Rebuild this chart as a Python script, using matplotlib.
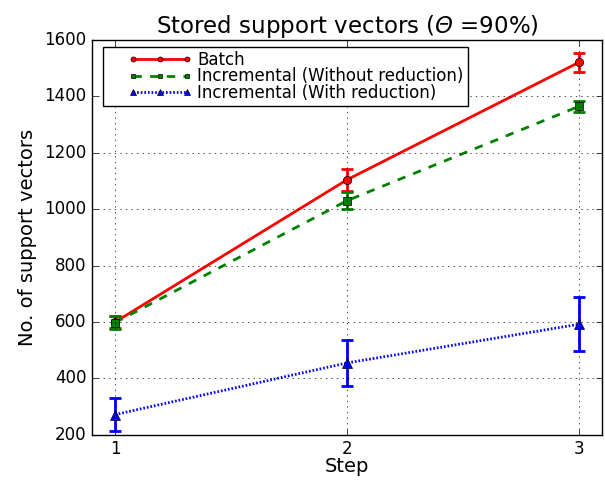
import numpy as np
import matplotlib
matplotlib.use('Agg')
import matplotlib.pyplot as plt
from matplotlib.legend_handler import HandlerLine2D

plt.style.use('classic')
# italic Theta in the title
plt.rcParams['mathtext.fontset'] = 'custom'
plt.rcParams['mathtext.rm'] = 'DejaVu Sans:italic'
plt.rcParams['mathtext.it'] = 'DejaVu Sans:italic'

steps = [1, 2, 3]

batch = [600, 1104, 1520]
batch_err = [20, 40, 33]

inc_noreduc = [598, 1030, 1364]
inc_noreduc_err = [22, 31, 21]

inc_reduc = [272, 455, 592]
inc_reduc_err = [60, 80, 95]


# old-style legend handle: line + 3 markers, shifted to the right
class OldHandler(HandlerLine2D):
    def get_xdata(self, legend, xdescent, ydescent, width, height, fontsize):
        xd = np.linspace(-xdescent + 0.325 * width, -xdescent + width, 3)
        return xd, xd


fig = plt.figure(figsize=(6.05, 4.8), dpi=100)
ax1 = fig.add_axes([0.152, 0.094, 0.843, 0.823])

kw = dict(lw=2, elinewidth=2, capsize=4.5, capthick=2, mec='k')
e1 = ax1.errorbar(steps, batch, yerr=batch_err, fmt='o-', color='r',
                  mfc='r', ms=6, **kw)
e2 = ax1.errorbar(steps, inc_noreduc, yerr=inc_noreduc_err, fmt='s--',
                  color='g', mfc='g', ms=6, **kw)
e3 = ax1.errorbar(steps, inc_reduc, yerr=inc_reduc_err, fmt='^', color='b',
                  mfc='b', ms=7, **kw)
e3[0].set_linestyle((0, (1.2, 1.4)))

ax1.set_xlim(0.9, 3.1)
ax1.set_ylim(200, 1600)
ax1.set_xticks(steps)
ax1.set_yticks(np.arange(200, 1601, 200))
ax1.tick_params(labelsize=12)
ax1.grid(True)

plt.title(r'Stored support vectors ($\Theta$ =90%)', fontsize=16.5)
plt.xlabel('Step', fontsize=14, labelpad=-1)
plt.ylabel('No. of support vectors', fontsize=14, labelpad=5)

lines = [e1[0], e2[0], e3[0]]
labels = ['Batch', 'Incremental (Without reduction)',
          'Incremental (With reduction)']
ax1.legend(lines, labels, loc='upper left', fontsize=12, frameon=True,
           fancybox=False, borderpad=0.25, labelspacing=-0.1,
           handlelength=4.8, handletextpad=0.6, borderaxespad=0,
           bbox_to_anchor=(0.0216, 0.982), markerscale=0.6,
           handler_map={l: OldHandler() for l in lines})

plt.savefig('out.png', dpi=100)
